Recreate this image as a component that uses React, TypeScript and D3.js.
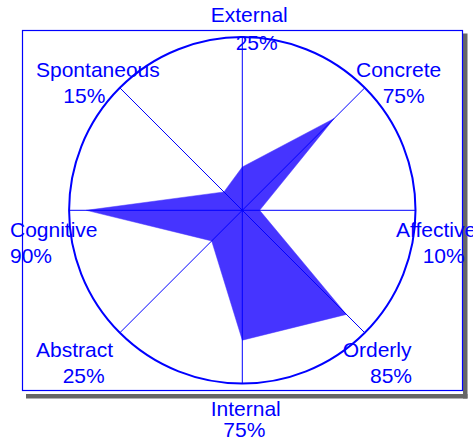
import React from "react";
import * as d3 from "d3";

const categories = ["External", "Concrete", "Affective", "Orderly", "Internal", "Abstract", "Cognitive", "Spontaneous"];
const values = [25, 75, 10, 85, 75, 25, 90, 15];
const valueLabels = ["25%", "75%", "10%", "85%", "75%", "25%", "90%", "15%"];

// label layout: [x line1, baseline1, x line2, baseline2] (start anchored)
const labelLayout: number[][] = [
  [210.7, 22.3, 235.7, 50],
  [356, 77.3, 382.7, 102.7],
  [396, 236.7, 422.7, 263.3],
  [342.7, 357.3, 370, 382.7],
  [210.7, 415.7, 223.3, 436.7],
  [36, 356.7, 62.7, 382.7],
  [10, 236.7, 10, 263.3],
  [36, 77.3, 63.3, 102.7],
];

const W = 473;
const H = 439;
const cx = 242.3;
const cy = 210.3;
const R = 173.2;
const BLUE = "#0000ff";

export default function App() {
  const r = d3.scaleLinear().domain([0, 100]).range([0, R]);
  const angle = d3
    .scaleLinear()
    .domain([0, categories.length])
    .range([0, 2 * Math.PI]);

  const pt = (i: number, v: number): [number, number] => {
    const a = angle(i);
    return [cx + r(v) * Math.sin(a), cy - r(v) * Math.cos(a)];
  };

  const polyPts = values.map((v, i) => pt(i, v));
  const line = d3.line().curve(d3.curveLinearClosed);

  return (
    <svg
      width={W}
      height={H}
      style={{ position: "absolute", left: 0, top: 0, display: "block", background: "#fff" }}
      fontFamily="'Liberation Sans', Arial, sans-serif"
    >
      {/* shadow */}
      <rect x={463} y={33.5} width={4.5} height={365} fill="#666" />
      <rect x={26} y={394} width={441.5} height={4.5} fill="#666" />
      {/* frame */}
      <rect x={22.5} y={30.5} width={440} height={360} fill="#fff" stroke={BLUE} strokeWidth={1.2} />

      {/* polygon */}
      <path d={line(polyPts) || ""} fill="#4634ff" stroke="#4634ff" strokeWidth={0.5} />

      {/* spokes */}
      {categories.map((c, i) => {
        const [x2, y2] = pt(i, 100);
        return <line key={c} x1={cx} y1={cy} x2={x2} y2={y2} stroke={BLUE} strokeWidth={1} />;
      })}

      {/* circle */}
      <circle cx={cx} cy={cy} r={R} fill="none" stroke={BLUE} strokeWidth={2} />

      {/* labels */}
      {categories.map((c, i) => {
        const l = labelLayout[i];
        return (
          <g key={"l" + c} fill={BLUE} fontSize={21}>
            <text x={l[0]} y={l[1]}>{c}</text>
            <text x={l[2]} y={l[3]}>{valueLabels[i]}</text>
          </g>
        );
      })}
    </svg>
  );
}
